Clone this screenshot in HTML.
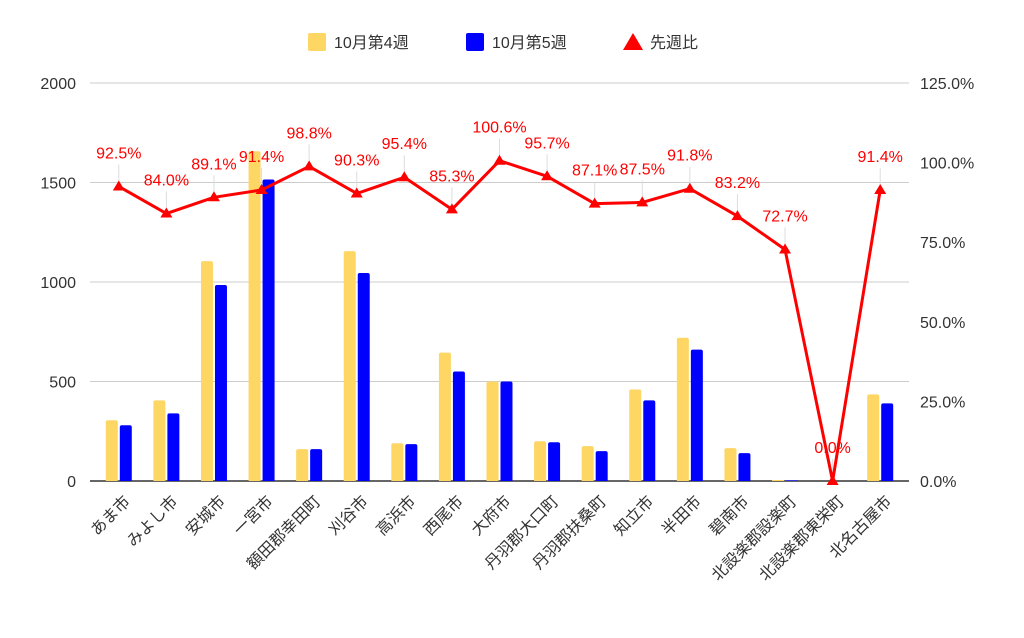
<!DOCTYPE html>
<html><head><meta charset="utf-8"><style>
body{margin:0;background:#fff;}
svg text{font-family:"Liberation Sans","Noto Sans CJK JP",sans-serif;}
</style></head><body>
<svg id="chart" width="1024" height="633" xmlns="http://www.w3.org/2000/svg">
<g id="legend">
 <g><rect x="308" y="33" width="18" height="18" rx="2" fill="#fdd663"/><text x="334" y="48" font-size="16" fill="#333">10月第4週</text></g>
 <g><rect x="466" y="33" width="18" height="18" rx="2" fill="#0000ff"/><text x="492" y="48" font-size="16" fill="#333">10月第5週</text></g>
 <g><polygon points="633,33 643,50 623,50" fill="#ff0000"/><text x="650" y="48" font-size="16" fill="#333">先週比</text></g>
</g>
<g id="grid"></g><g id="bars"></g><g id="line"></g><g id="xlabels"></g>
</svg>
<script>
const categories=["あま市","みよし市","安城市","一宮市","額田郡幸田町","刈谷市","高浜市","西尾市","大府市","丹羽郡大口町","丹羽郡扶桑町","知立市","半田市","碧南市","北設楽郡設楽町","北設楽郡東栄町","北名古屋市"];
const week4=[305,405,1105,1657,160,1155,190,645,500,200,175,460,720,165,5,0,435];
const week5=[280,340,985,1515,160,1045,185,550,500,195,150,405,660,140,3,0,390];
const ratio=[92.5,84.0,89.1,91.4,98.8,90.3,95.4,85.3,100.6,95.7,87.1,87.5,91.8,83.2,72.7,0.0,91.4];
const leftTicks=[0,500,1000,1500,2000];
const rightTicks=["0.0%","25.0%","50.0%","75.0%","100.0%","125.0%"];
const NS="http://www.w3.org/2000/svg";
const X0=95,X1=904,Y0=481,Y1=83;
const step=(X1-X0)/categories.length;
const xc=i=>X0+step*(i+0.5);
const yL=v=>Y0-(v/2000)*(Y0-Y1);
const yR=v=>Y0-(v/125)*(Y0-Y1);
function mk(tag,attrs,parent,txt){const e=document.createElementNS(NS,tag);for(const k in attrs)e.setAttribute(k,attrs[k]);if(txt!==undefined)e.textContent=txt;parent.appendChild(e);return e;}
const grid=document.getElementById('grid');
leftTicks.forEach(t=>{
 const y=yL(t);
 const g=mk('line',{x1:X0-5,x2:X1+5,y1:y,y2:y,stroke:t===0?'#333':'#ccc','stroke-width':t===0?1.5:1},grid);
 
 
 const l=mk('text',{x:76,y:y+6,'font-size':16,fill:'#333','text-anchor':'end'},grid,String(t));
 
 
});
rightTicks.forEach((t,i)=>{
 const l=mk('text',{x:920,y:yR(i*25)+6,'font-size':16,fill:'#333'},grid,t);
 
 
});
const bars=document.getElementById('bars');
function bar(x,v,color,name){
 const y=yL(v),h=Y0-y;
 if(h<=0)return;
 const r=Math.min(2,h/2);
 const p=mk('path',{d:`M${x},${Y0}V${y+r}Q${x},${y} ${x+r},${y}H${x+12-r}Q${x+12},${y} ${x+12},${y+r}V${Y0}Z`,fill:color},bars);
 
 
}
categories.forEach((c,i)=>{
 const cx=xc(i);
 bar(cx-13,week4[i],'#fdd663','bar-week4');
 bar(cx+1,week5[i],'#0000ff','bar-week5');
});
const line=document.getElementById('line');
const pts=ratio.map((r,i)=>[xc(i),yR(r)]);
ratio.forEach((r,i)=>{
 const [x,y]=pts[i];
 const ld=mk('line',{x1:x,x2:x,y1:y-22,y2:y,stroke:'#ddd','stroke-width':1},line);
 
 
});
const pl=mk('polyline',{points:pts.map(p=>p.join(',')).join(' '),fill:'none',stroke:'#ff0000','stroke-width':3,'stroke-linejoin':'round'},line);


ratio.forEach((r,i)=>{
 const [x,y]=pts[i];
 const m=mk('polygon',{points:`${x},${y-6} ${x+6},${y+4} ${x-6},${y+4}`,fill:'#ff0000'},line);
 
 
 const t=mk('text',{x:x,y:y-28,'font-size':16,fill:'#ff0000','text-anchor':'middle'},line,r.toFixed(1)+'%');
 
 
});
const xl=document.getElementById('xlabels');
categories.forEach((c,i)=>{
 const x=xc(i)+5,y=Y0+14;
 const t=mk('text',{x:x,y:y,'font-size':16,fill:'#333','text-anchor':'end',transform:`rotate(-45 ${x} ${y})`,'dominant-baseline':'hanging'},xl,c);
 
 
});
</script>
</body></html>
